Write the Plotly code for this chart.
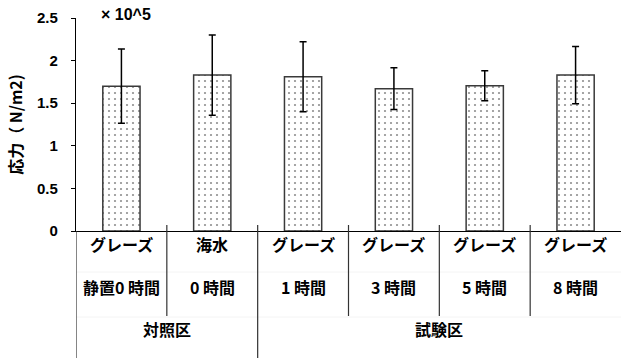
import plotly.graph_objects as go

# Stress measurements (×10^5 N/m2) per condition
row1_labels = ["グレーズ", "海水", "グレーズ", "グレーズ", "グレーズ", "グレーズ"]
row2_labels = ["静置0 時間", "0 時間", "1 時間", "3 時間", "5 時間", "8 時間"]
groups = ["対照区", "試験区"]
group_sizes = [2, 4]
stress = [1.70, 1.83, 1.81, 1.67, 1.705, 1.83]
stress_err = [0.435, 0.47, 0.41, 0.245, 0.175, 0.335]
y_ticks = [0, 0.5, 1, 1.5, 2, 2.5]

JP = "Noto Sans CJK JP"
LAT = "Liberation Sans"

n = len(stress)
xs = list(range(n))

fig = go.Figure()
fig.add_trace(go.Bar(
    x=xs, y=stress, width=0.41,
    marker=dict(
        color="white",
        line=dict(color="#3a3a3a", width=1.5),
        pattern=dict(shape=".", fgcolor="#1f1f1f", bgcolor="white",
                     size=6, solidity=0.11, fillmode="overlay"),
    ),
    error_y=dict(type="data", array=stress_err, visible=True,
                 color="black", thickness=1.5, width=3.5),
    showlegend=False,
))

# paper-space rows below the value axis (plot height 213 px)
PH = 213.0
def py(px_below):
    return -px_below / PH

shapes = []
# faint separators between label rows
for below in (41, 86):
    shapes.append(dict(type="line", xref="paper", yref="paper", x0=0, x1=1,
                       y0=py(below), y1=py(below),
                       line=dict(color="#f4f4f4", width=1)))
# category boundaries: short for inner, full height for group edges
edges = [-0.5]
acc = -0.5
for s in group_sizes:
    acc += s
    edges.append(acc)
for k in range(n):
    b = k - 0.5
    full = any(abs(b - e) < 1e-9 for e in edges)
    shapes.append(dict(type="line", xref="x", yref="paper", x0=b, x1=b,
                       y0=6 / PH if b > -0.5 else 0,
                       y1=py(127) if full else py(85),
                       line=dict(color="#333333", width=1.2)))

label_font = dict(family=JP, size=16, color="black")
annotations = []
for i in xs:
    annotations.append(dict(x=i, y=py(27), xref="x", yref="paper",
                            text=f"<b>{row1_labels[i]}</b>", showarrow=False,
                            font=label_font))
    annotations.append(dict(x=i, y=py(70), xref="x", yref="paper",
                            text=f"<b>{row2_labels[i]}</b>", showarrow=False,
                            font=label_font))
start = 0
for g, s in zip(groups, group_sizes):
    annotations.append(dict(x=start + (s - 1) / 2, y=py(112), xref="x", yref="paper",
                            text=f"<b>{g}</b>", showarrow=False,
                            font=label_font))
    start += s

annotations.append(dict(x=0.043, y=1.015, xref="paper", yref="paper",
                        text="<b>× 10^5</b>", showarrow=False,
                        xanchor="left", yanchor="middle",
                        font=dict(family=LAT, size=16, color="black")))

fig.update_layout(
    width=621, height=360,
    margin=dict(l=76, r=0, t=18, b=129),
    paper_bgcolor="white", plot_bgcolor="white",
    shapes=shapes, annotations=annotations,
    xaxis=dict(range=[-0.5, n - 0.5], showticklabels=False, ticks="",
               showgrid=False, zeroline=False,
               showline=True, linecolor="black", linewidth=1.2),
    yaxis=dict(range=[0, 2.5], tickvals=y_ticks,
               ticktext=[f"<b>{v:g}</b>" for v in y_ticks],
               ticks="outside", ticklen=4, tickcolor="black",
               ticklabelstandoff=10,
               showgrid=False, zeroline=False,
               showline=True, linecolor="black", linewidth=1.2,
               tickfont=dict(family=LAT, size=15, color="black"),
               title=dict(text="<b>応力（ N/m2)</b>", standoff=10,
                          font=dict(family=JP, size=16, color="black"))),
)

fig.write_html("out.html")
